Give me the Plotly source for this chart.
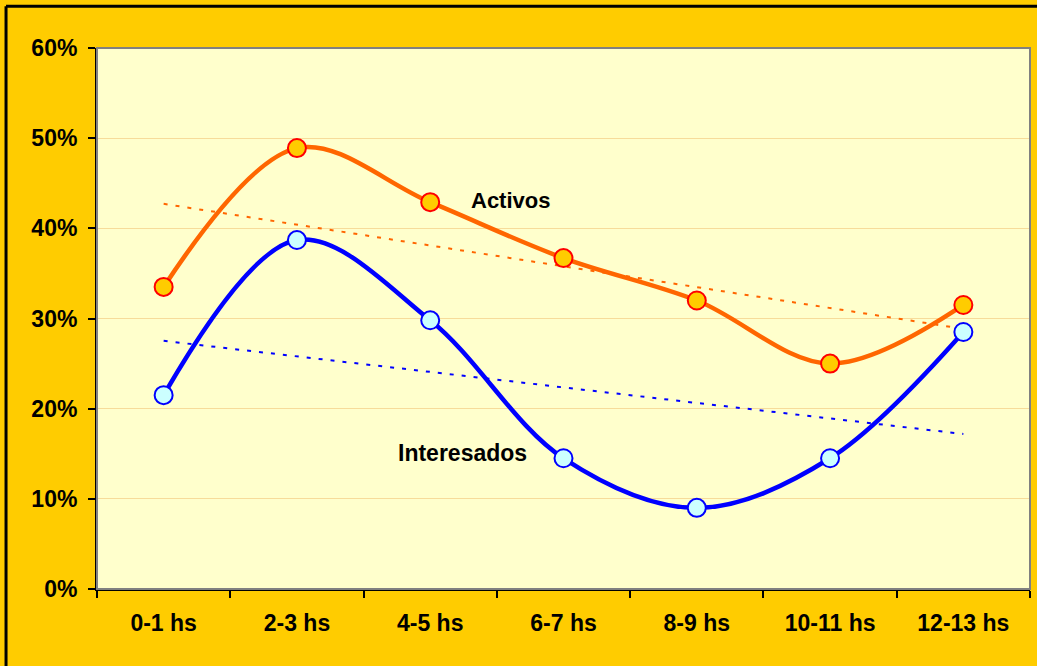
"""Activos vs Interesados by hour range, smoothed lines with linear trends."""
import numpy as np
import plotly.graph_objects as go

hours = ["0-1 hs", "2-3 hs", "4-5 hs", "6-7 hs", "8-9 hs", "10-11 hs", "12-13 hs"]
activos = [33.5, 48.9, 42.9, 36.7, 32.0, 25.0, 31.5]
interesados = [21.5, 38.7, 29.8, 14.5, 9.0, 14.5, 28.5]

FONT = "Liberation Sans, Arial, sans-serif"
GOLD = "#FFCC00"
PLOT_BG = "#FFFFCC"
ORANGE = "#FF6600"
BLUE = "#0000FF"


def trend(values):
    idx = np.arange(len(values))
    slope, icpt = np.polyfit(idx, values, 1)
    return slope * idx + icpt


fig = go.Figure()

# linear trendlines (drawn first so the curves sit on top)
fig.add_trace(go.Scatter(
    x=hours, y=trend(activos), mode="lines",
    line=dict(color=ORANGE, width=2, dash="4px,8px"),
    hoverinfo="skip", showlegend=False,
))
fig.add_trace(go.Scatter(
    x=hours, y=trend(interesados), mode="lines",
    line=dict(color=BLUE, width=2, dash="4px,8px"),
    hoverinfo="skip", showlegend=False,
))

fig.add_trace(go.Scatter(
    x=hours, y=activos, mode="lines+markers", name="Activos",
    line=dict(color=ORANGE, width=4.5, shape="spline", smoothing=1.0),
    marker=dict(size=18, color=GOLD, line=dict(color="#FF0000", width=2)),
    showlegend=False,
))
fig.add_trace(go.Scatter(
    x=hours, y=interesados, mode="lines+markers", name="Interesados",
    line=dict(color=BLUE, width=4.5, shape="spline", smoothing=1.0),
    marker=dict(size=18, color="#CCFFFF", line=dict(color=BLUE, width=2)),
    showlegend=False,
))

fig.add_annotation(x=2.605, y=43.1, text="Activos", showarrow=False,
                   font=dict(family=FONT, size=22, color="black", weight="bold"))
fig.add_annotation(x=2.244, y=15.1, text="Interesados", showarrow=False,
                   font=dict(family=FONT, size=23, color="black", weight="bold"))

# plot-area frame: grey top/right edges
fig.add_shape(type="rect", xref="paper", yref="paper", x0=0, x1=1, y0=0, y1=1,
              line=dict(color="#808080", width=2), layer="above")
# outer black frame: only the top and left edges fall inside the image
fig.add_shape(type="line", xref="paper", yref="paper",
              x0=-0.0975, x1=1.1, y0=1.077, y1=1.077,
              line=dict(color="black", width=3), layer="above")
fig.add_shape(type="line", xref="paper", yref="paper",
              x0=-0.0975, x1=-0.0975, y0=-0.2, y1=1.077,
              line=dict(color="black", width=3), layer="above")

fig.update_layout(
    width=1037, height=666,
    margin=dict(l=97, r=7, t=48, b=77),
    paper_bgcolor=GOLD, plot_bgcolor=PLOT_BG,
    font=dict(family=FONT, color="black"),
    xaxis=dict(
        type="category", range=[-0.5, 6.5],
        tickson="boundaries", ticks="outside", ticklen=7, tickwidth=2, tickcolor="black",
        showline=True, linecolor="black", linewidth=2, showgrid=False, zeroline=False,
        tickfont=dict(family=FONT, size=23, weight="bold"), ticklabelstandoff=12,
    ),
    yaxis=dict(
        range=[0, 60], dtick=10, ticksuffix="%",
        ticks="outside", ticklen=7, tickwidth=2, tickcolor="black",
        showline=True, linecolor="black", linewidth=2,
        showgrid=True, gridcolor="#F7DC9A", gridwidth=1, zeroline=False,
        tickfont=dict(family=FONT, size=23, weight="bold"), ticklabelstandoff=6,
    ),
)

fig.write_html("out.html", config={"displayModeBar": False},
               post_script="document.body.style.margin='0';")
